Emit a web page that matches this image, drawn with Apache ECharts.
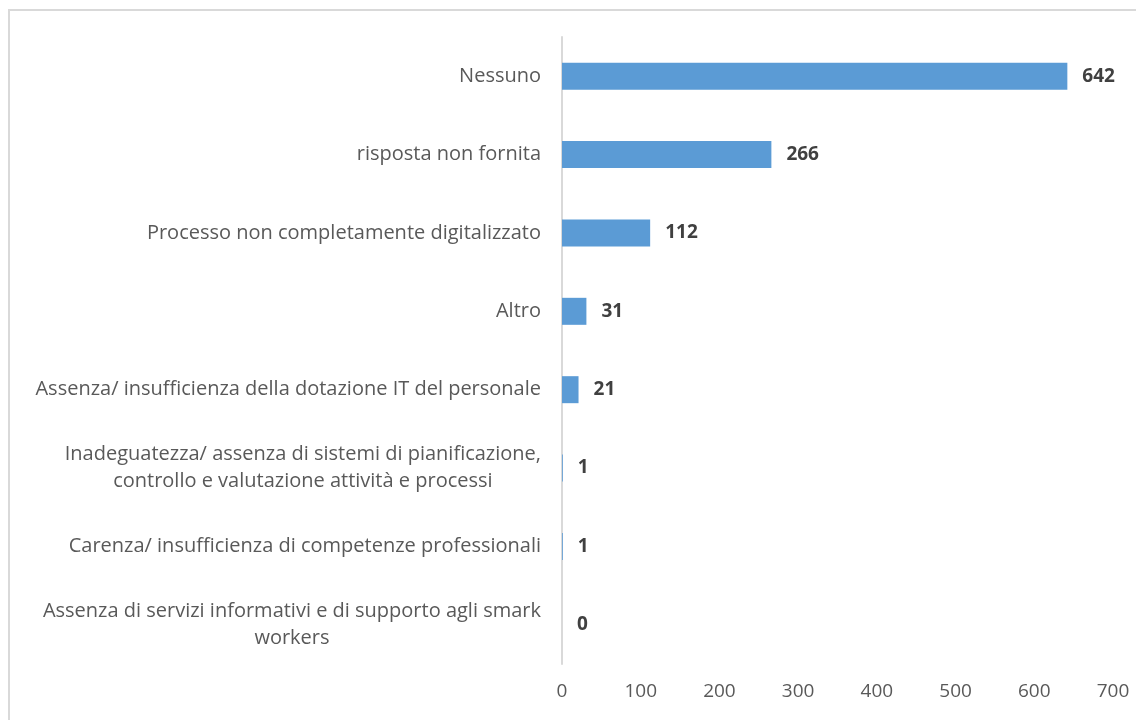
<!DOCTYPE html>
<html>
<head>
<meta charset="utf-8">
<title>Ostacoli</title>
<script src="https://cdn.jsdelivr.net/npm/echarts@6/dist/echarts.min.js"></script>
<style>
  html, body { margin: 0; padding: 0; background: #ffffff; }
  #chart { width: 1136px; height: 720px; }
</style>
</head>
<body>
<div id="chart"></div>
<script>
// Categories, top to bottom
const categories = [
  'Nessuno',
  'risposta non fornita',
  'Processo non completamente digitalizzato',
  'Altro',
  'Assenza/ insufficienza della dotazione IT del personale',
  'Inadeguatezza/ assenza di sistemi di pianificazione,\ncontrollo e valutazione attività e processi',
  'Carenza/ insufficienza di competenze professionali',
  'Assenza di servizi informativi e di supporto agli smark\nworkers'
];

// Number of responses per category
const counts = [642, 266, 112, 31, 21, 1, 1, 0];

// Value axis ticks
const axisMin = 0;
const axisMax = 700;
const axisStep = 100;

const FONT = '"Open Sans", "Noto Sans", sans-serif';

const chart = echarts.init(document.getElementById('chart'), null, { renderer: 'canvas' });

chart.setOption({
  backgroundColor: '#ffffff',
  animation: false,
  graphic: [{
    type: 'rect',
    shape: { x: 9, y: 10, width: 1300, height: 900 },
    style: { fill: 'none', stroke: '#d9d9d9', lineWidth: 2 },
    silent: true,
    z: -1
  }],
  grid: {
    left: 562,
    right: 23,
    top: 37,
    bottom: 56,
    containLabel: false
  },
  xAxis: {
    type: 'value',
    min: axisMin,
    max: axisMax,
    interval: axisStep,
    axisLine: { show: false },
    axisTick: { show: false },
    splitLine: { show: false },
    axisLabel: {
      color: '#595959',
      fontFamily: FONT,
      fontSize: 19,
      margin: 18
    }
  },
  yAxis: {
    type: 'category',
    data: categories,
    inverse: true,
    axisLine: { show: true, lineStyle: { color: '#d9d9d9', width: 2 } },
    axisTick: { show: false },
    splitLine: { show: false },
    axisLabel: {
      color: '#595959',
      fontFamily: FONT,
      fontSize: 20,
      margin: 21,
      lineHeight: 27,
      formatter: function (v) {
        // each line centred within the label block
        return v.split('\n').map(function (l) { return '{c|' + l + '}'; }).join('\n');
      },
      rich: {
        c: {
          align: 'center',
          color: '#595959',
          fontFamily: FONT,
          fontSize: 20,
          lineHeight: 27
        }
      }
    }
  },
  series: [{
    type: 'bar',
    data: counts,
    barWidth: 27,
    itemStyle: { color: '#5b9bd5' },
    label: {
      show: true,
      position: 'right',
      distance: 15,
      color: '#404040',
      fontFamily: FONT,
      fontWeight: 'bold',
      fontSize: 19
    }
  }]
});
</script>
</body>
</html>
